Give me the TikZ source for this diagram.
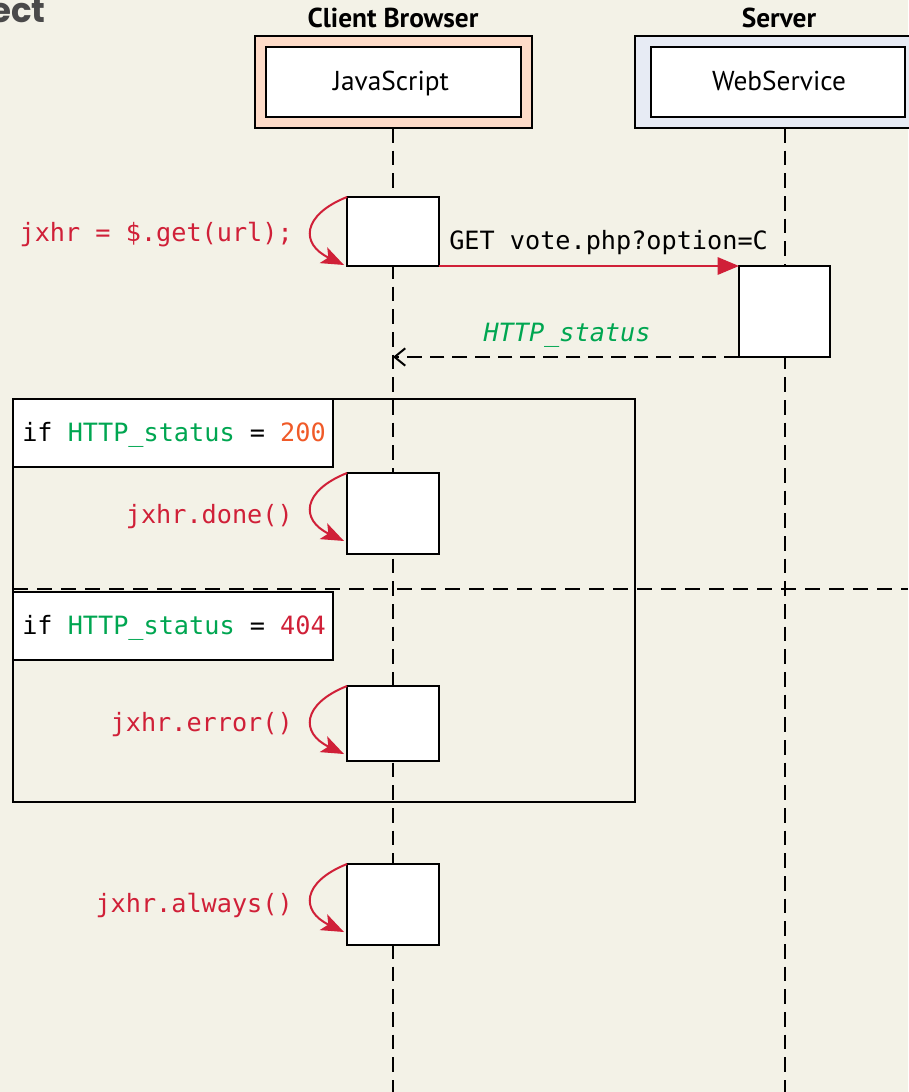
\documentclass[tikz,border=0pt]{standalone}
\usepackage{fontspec}
\setmonofont{DejaVu Sans Mono}
\newfontfamily\uifont{PT Sans}
\newfontfamily\headfont{Poppins}
\usetikzlibrary{arrows.meta,calc}

\definecolor{paper}{RGB}{243,242,231}
\definecolor{peach}{RGB}{253,219,200}
\definecolor{mist}{RGB}{231,235,244}
\definecolor{crimson}{RGB}{208,32,56}
\definecolor{leaf}{RGB}{0,166,81}
\definecolor{ember}{RGB}{240,90,40}
\definecolor{slate}{RGB}{74,74,74}

\begin{document}
\begin{tikzpicture}[x=0.75pt,y=-0.75pt,
  box/.style={draw=black, line width=1.5pt, inner sep=0pt, outer sep=0pt},
  actbox/.style={box, fill=white, minimum width=69pt},
  lifeline/.style={draw=black, line width=1.5pt, dash pattern=on 11pt off 6pt},
  divider/.style={draw=black, line width=1.5pt, dash pattern=on 11pt off 7pt},
  code/.style={font=\ttfamily\fontsize{18.9}{22}\selectfont, inner sep=0pt},
  ui/.style={font=\uifont\fontsize{20.5}{24}\selectfont, inner sep=0pt},
  uititle/.style={font=\uifont\bfseries\fontsize{20.5}{24}\selectfont, inner sep=0pt},
  selfcall/.style={draw=crimson, line width=1.5pt, -{Stealth[length=17pt,width=13pt,inset=4pt]}},
  request/.style={draw=crimson, line width=1.5pt, -{Triangle[length=16pt,width=13pt]}},
  reply/.style={draw=black, line width=1.5pt, dash pattern=on 11pt off 6pt, -{Straight Barb[length=8pt,width=13pt]}}
]
% canvas
\fill[paper] (0,0) rectangle (908,1092);
\useasboundingbox (0,0) rectangle (908,1092);

% section heading, partly outside the page
\node[font=\headfont\bfseries\fontsize{25.5}{30}\selectfont, text=slate, anchor=base east, inner sep=0pt] (heading) at (46,22) {ect};

% participants
\node[box, fill=peach, minimum width=207.75pt, minimum height=69pt] (cbo) at (393.5,82) {};
\node[box, fill=white, minimum width=191.25pt, minimum height=52.5pt] (cb) at (393.5,82) {};
\node[ui, anchor=base] (cbtext) at (391,90) {JavaScript};
\node[uititle, anchor=base] (cbtitle) at (393,27) {Client Browser};

\node[box, fill=mist, minimum width=225pt, minimum height=69pt] (svo) at (785,82) {};
\node[box, fill=white, minimum width=190.5pt, minimum height=52.5pt] (sv) at (778,82) {};
\node[ui, anchor=base] (svtext) at (779,90) {WebService};
\node[uititle, anchor=base] (svtitle) at (779,27) {Server};

% lifelines
\coordinate (cbEnd) at (393,1092);
\coordinate (svEnd) at (785,1092);
\draw[lifeline] (cbo.south -| cbEnd) -- (cbEnd);
\draw[lifeline] (svo.south) -- (svEnd);

% alt frame with its two guards
\node[box, minimum width=466.5pt, minimum height=302.25pt] (alt) at (324,600.5) {};
\coordinate (divL) at (13,589);
\coordinate (divR) at (908,589);
\draw[divider] (divL) -- (divR);
\node[box, fill=white, minimum width=240pt, minimum height=51pt] (g1) at (173,433) {};
\node[box, fill=white, minimum width=240pt, minimum height=51pt] (g2) at (173,626) {};
\node[code, anchor=base] (g1text) at (174,441) {if {\color{leaf}HTTP\_status} = {\color{ember}200}};
\node[code, anchor=base] (g2text) at (174,634) {if {\color{leaf}HTTP\_status} = {\color{crimson}404}};

% activations
\node[actbox, minimum height=51.75pt] (a1) at (393,231.5) {};
\node[actbox, minimum height=60.75pt] (a2) at (393,513.5) {};
\node[actbox, minimum height=56.25pt] (a3) at (393,723.5) {};
\node[actbox, minimum height=60.75pt] (a4) at (393,904.5) {};
\node[actbox, minimum width=68.25pt, minimum height=68.25pt] (sa) at (784.5,311.5) {};

% self calls
\foreach \a in {a1,a2,a3,a4}{
  \draw[selfcall] (\a.north west) .. controls ($(\a.north west)+(-45,18)$) and ($(\a.north west)+(-47,47)$) .. ($(\a.north west)+(-3,68)$);
}

% messages
\draw[request] (a1.south east) -- (sa.north west);
\node[code, anchor=base west] (req) at (449,249) {GET vote.php?option=C};
\draw[reply] (sa.south west) -- (sa.south west -| cbEnd);
\node[code, font=\ttfamily\itshape\fontsize{18.9}{22}\selectfont, text=leaf, anchor=base] (rep) at (567,341) {HTTP\_status};

% call labels
\node[code, text=crimson, anchor=base east] (c1) at (293,241) {jxhr = \$.get(url);};
\node[code, text=crimson, anchor=base east] (c2) at (293,523) {jxhr.done()};
\node[code, text=crimson, anchor=base east] (c3) at (293,731) {jxhr.error()};
\node[code, text=crimson, anchor=base east] (c4) at (293,912) {jxhr.always()};
\end{tikzpicture}
\end{document}
